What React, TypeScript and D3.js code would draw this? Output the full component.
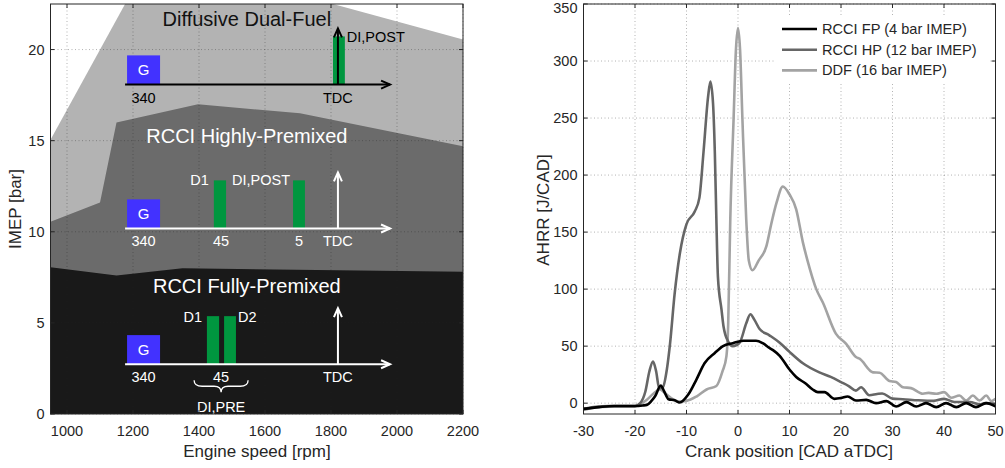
import React from 'react'
import * as d3 from 'd3'

// ---- left panel: operating regions (IMEP vs engine speed)
const rpmTicks = [1000, 1200, 1400, 1600, 1800, 2000, 2200]
const imepTicks = [0, 5, 10, 15, 20]

const ddfRpm = [950, 1176, 1806, 2200]
const ddfImep = [15.05, 22.5, 22.5, 20.55]
const hpRpm = [950, 1100, 1150, 1397, 1706, 2200]
const hpImep = [10.55, 11.6, 16.0, 17.0, 16.5, 14.7]
const fpRpm = [950, 1150, 1350, 2200]
const fpImep = [8.05, 7.6, 8.0, 7.8]

// ---- right panel: apparent heat release rate
const cadTicks = [-30, -20, -10, 0, 10, 20, 30, 40, 50]
const ahrrTicks = [0, 50, 100, 150, 200, 250, 300, 350]

const fpCad = [-30, -27, -24, -20, -18.5, -17.7, -16.8, -16.1, -15, -14.3, -13.5, -12.3, -11.3, -9.7, -8.1, -6.5, -4.5, -2.9, -1, 1, 3.5, 4.8, 6.1, 6.8, 8.1, 10, 11.3, 13.2, 14.5, 15.5, 16.8, 18.7, 20, 21.3, 22.9, 24.9, 26.8, 28.8, 30.7, 32.7, 34.6, 36.5, 38.5, 40.4, 42.4, 44.3, 46.2, 48.2, 50]
const fpAhrr = [-5, -3.5, -2.5, -2.5, -2, -1.5, 2, 6, 15.5, 10, 3.5, 2.5, 0.6, 7.3, 20.5, 35, 44, 50, 52.6, 54.7, 54.7, 52.6, 48.5, 46.5, 41.5, 29.5, 23, 17, 12, 9.7, 9.7, 3.8, 4.5, 5.9, 2.3, 2.9, 0, 1.8, -2.9, 0.9, -2.9, 0, -3.5, 0, -3.5, 0, -3.5, 0, -2.9]

const hpCad = [-30, -28, -25, -20, -19, -18, -17.2, -16.5, -15.9, -15.3, -14.6, -13.8, -13.2, -12.3, -11.3, -10, -8.4, -7.5, -6.7, -5.8, -5.36, -4.85, -4.5, -4.2, -3.9, -3.2, -2.8, -1.9, -1, 0.3, 1.6, 2.4, 3.2, 4.2, 6.1, 8.1, 10, 12.6, 15.8, 18, 20, 21.5, 22.9, 23.9, 25.5, 27, 28, 30, 32, 35, 38, 40, 42, 45, 47, 48, 50]
const hpAhrr = [-5, -3.5, -2.5, -2.5, 0, 10, 28, 36.5, 28, 13, 14, 30, 52, 96, 131, 157, 168, 180, 220, 269, 282, 263, 220, 161, 111, 82, 67, 54, 50, 53, 70, 78, 73, 65, 59.5, 53, 45, 35, 27, 23, 18.5, 15, 11, 14, 7, 8, 8.5, 4, 3.5, 2.5, 2, 3.8, 1, 1, -1, 0, -1]

const ddfCad = [-30, -28, -25, -20, -19, -17.7, -16.5, -15.2, -14, -12.5, -11.5, -10, -8, -6.1, -4.2, -3, -2.25, -1.9, -1.5, -0.85, -0.4, 0, 0.4, 0.85, 1.6, 2.1, 2.8, 4, 5.5, 6.5, 7.5, 8.7, 10, 11.3, 12.6, 13.5, 15.2, 16.5, 19, 21, 22.9, 23.6, 26.2, 27.5, 29.4, 30.7, 32, 33.6, 35.9, 37, 38.5, 40, 41.4, 43, 44.3, 45.6, 46.9, 48.2, 49.2, 50]
const ddfAhrr = [-6, -4, -3, -3, -1, 3, 8, 12, 8, 3, 1.5, 2, 6, 12, 15, 28, 41, 70, 161, 250, 310, 329, 310, 250, 161, 125, 116.5, 125, 137.5, 158, 176, 190, 183, 170, 141, 125, 100, 88, 61, 52, 40.5, 39, 27, 26.7, 19.4, 18.5, 14, 13.2, 8.2, 9, 8.2, 9.7, 4.7, 6.7, 2.3, 6.7, 2.3, 6.7, 1.8, 3.8]

const seriesNames = ['RCCI FP (4 bar IMEP)', 'RCCI HP (12 bar IMEP)', 'DDF (16 bar IMEP)']
const seriesColors = ['#000000', '#666666', '#a3a3a3']

const font = "'Liberation Sans', Arial, Helvetica, sans-serif"
const ink = '#262626'
const blue = '#4232ff'
const green = '#00963f'

const W = 1005
const H = 468

const xL = d3.scaleLinear().domain([950, 2200]).range([50.5, 463])
const yL = d3.scaleLinear().domain([0, 22.5]).range([414, 4])
const xR = d3.scaleLinear().domain([-30, 50]).range([583.5, 995.5])
const yR = d3.scaleLinear().domain([-9.5, 350]).range([414, 4])

const regionArea = (rpm: number[], imep: number[]) =>
	d3
		.area<number>()
		.x((_, i) => xL(rpm[i]))
		.y0(yL(0))
		.y1((d) => yL(d))(imep) || ''

const ahrrLine = (cad: number[], vals: number[]) =>
	d3
		.line<number>()
		.x((_, i) => xR(cad[i]))
		.y((d) => yR(d))
		.curve(d3.curveMonotoneX)(vals) || ''

interface IAxesProps {
	x: d3.ScaleLinear<number, number>
	y: d3.ScaleLinear<number, number>
	xTicks: number[]
	yTicks: number[]
}

const Grid: React.FC<IAxesProps> = ({ x, y, xTicks, yTicks }) => {
	const [x0, x1] = x.range()
	const [y0, y1] = y.range()
	return (
		<g stroke={ink} strokeOpacity={0.35} strokeWidth={1} strokeDasharray="1,2.5">
			{xTicks.map((t) => (
				<line key={'gx' + t} x1={x(t)} x2={x(t)} y1={y0} y2={y1} />
			))}
			{yTicks.map((t) => (
				<line key={'gy' + t} x1={x0} x2={x1} y1={y(t)} y2={y(t)} />
			))}
		</g>
	)
}

const Frame: React.FC<IAxesProps> = ({ x, y, xTicks, yTicks }) => {
	const [x0, x1] = x.range()
	const [y0, y1] = y.range()
	const tk = 4
	return (
		<g>
			<rect x={x0} y={y1} width={x1 - x0} height={y0 - y1} fill="none" stroke={ink} strokeWidth={1} />
			<g stroke={ink} strokeWidth={1}>
				{xTicks.map((t) => (
					<g key={'tx' + t}>
						<line x1={x(t)} x2={x(t)} y1={y0} y2={y0 - tk} />
						<line x1={x(t)} x2={x(t)} y1={y1} y2={y1 + tk} />
					</g>
				))}
				{yTicks.map((t) => (
					<g key={'ty' + t}>
						<line x1={x0} x2={x0 + tk} y1={y(t)} y2={y(t)} />
						<line x1={x1} x2={x1 - tk} y1={y(t)} y2={y(t)} />
					</g>
				))}
			</g>
			<g fill={ink} fontFamily={font} fontSize={14.5}>
				{xTicks.map((t) => (
					<text key={'lx' + t} x={x(t)} y={y0 + 22} textAnchor="middle">
						{t}
					</text>
				))}
				{yTicks.map((t) => (
					<text key={'ly' + t} x={x0 - 6} y={Math.max(y(t) + 5, 13)} textAnchor="end">
						{t}
					</text>
				))}
			</g>
		</g>
	)
}

// injection timing sketch, placed in (rpm, IMEP) units
interface ISketchProps {
	base: number
	color: string
	bars: [number, number][]
	ticks: { at: number; text: string }[]
	notes: { at: number; dy: number; text: string; anchor: 'start' | 'end' }[]
}

const Sketch: React.FC<ISketchProps> = ({ base, color, bars, ticks, notes }) => {
	const y0 = yL(base)
	const xs = xL(1176)
	const xe = xL(1979)
	const xt = xL(1821)
	const yt = yL(base + 3.08)
	return (
		<g fontFamily={font}>
			<rect x={xL(1182)} y={yL(base + 1.6)} width={xL(1282) - xL(1182)} height={y0 - yL(base + 1.6)} fill={blue} />
			<text x={xL(1232)} y={yL(base + 0.8) + 5.5} textAnchor="middle" fill="#ffffff" fontSize={15}>
				G
			</text>
			{bars.map(([a, b], i) => (
				<rect key={i} x={xL(a)} y={yL(base + 2.64)} width={xL(b) - xL(a)} height={y0 - yL(base + 2.64)} fill={green} />
			))}
			<g stroke={color} strokeWidth={2} fill="none">
				<line x1={xs} x2={xe} y1={y0} y2={y0} />
				<polyline points={`${xe - 9},${y0 - 4} ${xe},${y0} ${xe - 9},${y0 + 4}`} />
				<line x1={xt} x2={xt} y1={y0} y2={yt} />
				<polyline points={`${xt - 4},${yt + 9} ${xt},${yt} ${xt + 4},${yt + 9}`} />
			</g>
			<g fill={color} fontSize={14.5}>
				{ticks.map((t) => (
					<text key={t.text + t.at} x={xL(t.at)} y={y0 + 18} textAnchor="middle">
						{t.text}
					</text>
				))}
				{notes.map((n) => (
					<text key={n.text + n.at} x={xL(n.at)} y={yL(base + 2.64) + n.dy} textAnchor={n.anchor}>
						{n.text}
					</text>
				))}
			</g>
		</g>
	)
}

const App: React.FC = () => {
	const fpSeries = [
		{ cad: fpCad, v: fpAhrr },
		{ cad: hpCad, v: hpAhrr },
		{ cad: ddfCad, v: ddfAhrr }
	]
	const braceX = xL(1467)
	const fpBase = 2.73
	const braceY = yL(fpBase) + 16
	return (
		<svg width={W} height={H} style={{ position: 'absolute', left: 0, top: 0, background: '#ffffff' }}>
			<defs>
				<clipPath id="clipL">
					<rect x={50.5} y={4} width={463 - 50.5} height={410} />
				</clipPath>
				<clipPath id="clipR">
					<rect x={583.5} y={4} width={412} height={410} />
				</clipPath>
			</defs>

			{/* left: regions */}
			<g clipPath="url(#clipL)">
				<rect x={50.5} y={4} width={412.5} height={410} fill="#ffffff" />
				<path d={regionArea(ddfRpm, ddfImep)} fill="#b3b3b3" />
				<path d={regionArea(hpRpm, hpImep)} fill="#6b6b6b" />
				<path d={regionArea(fpRpm, fpImep)} fill="#191919" />
			</g>
			<Grid x={xL} y={yL} xTicks={rpmTicks} yTicks={imepTicks} />

			<g fontFamily={font} fontSize={20} textAnchor="middle">
				<text x={xL(1545)} y={yL(21.28)} fill="#111111">
					Diffusive Dual-Fuel
				</text>
				<text x={xL(1545)} y={yL(14.87)} fill="#ffffff">
					RCCI Highly-Premixed
				</text>
				<text x={xL(1545)} y={yL(6.63)} fill="#ffffff">
					RCCI Fully-Premixed
				</text>
			</g>

			<Sketch
				base={18.08}
				color="#000000"
				bars={[[1806, 1842]]}
				ticks={[
					{ at: 1232, text: '340' },
					{ at: 1821, text: 'TDC' }
				]}
				notes={[{ at: 1848, dy: 6, text: 'DI,POST', anchor: 'start' }]}
			/>
			<Sketch
				base={10.18}
				color="#ffffff"
				bars={[
					[1445, 1482],
					[1685, 1721]
				]}
				ticks={[
					{ at: 1232, text: '340' },
					{ at: 1467, text: '45' },
					{ at: 1703, text: '5' },
					{ at: 1821, text: 'TDC' }
				]}
				notes={[
					{ at: 1430, dy: 5, text: 'D1', anchor: 'end' },
					{ at: 1676, dy: 5, text: 'DI,POST', anchor: 'end' }
				]}
			/>
			<Sketch
				base={fpBase}
				color="#ffffff"
				bars={[
					[1424, 1461],
					[1476, 1512]
				]}
				ticks={[
					{ at: 1232, text: '340' },
					{ at: 1467, text: '45' },
					{ at: 1821, text: 'TDC' }
				]}
				notes={[
					{ at: 1409, dy: 5.5, text: 'D1', anchor: 'end' },
					{ at: 1518, dy: 5.5, text: 'D2', anchor: 'start' }
				]}
			/>
			<path
				d={`M${braceX - 27},${braceY} Q${braceX - 27},${braceY + 6} ${braceX - 19},${braceY + 6} L${braceX - 7},${braceY + 6} Q${braceX},${braceY + 6} ${braceX},${braceY + 12} Q${braceX},${braceY + 6} ${braceX + 7},${braceY + 6} L${braceX + 19},${braceY + 6} Q${braceX + 27},${braceY + 6} ${braceX + 27},${braceY}`}
				fill="none"
				stroke="#ffffff"
				strokeWidth={1.3}
			/>
			<text x={braceX} y={yL(0) - 2.5} fill="#ffffff" fontFamily={font} fontSize={14.5} textAnchor="middle">
				DI,PRE
			</text>

			<Frame x={xL} y={yL} xTicks={rpmTicks} yTicks={imepTicks} />
			<text x={257} y={457} fontFamily={font} fontSize={17} fill={ink} textAnchor="middle">
				Engine speed [rpm]
			</text>
			<text transform="translate(21,209) rotate(-90)" fontFamily={font} fontSize={17} fill={ink} textAnchor="middle">
				IMEP [bar]
			</text>

			{/* right: AHRR */}
			<Grid x={xR} y={yR} xTicks={cadTicks} yTicks={ahrrTicks} />
			<rect x={776} y={16} width={214} height={67} fill="#ffffff" />
			<g clipPath="url(#clipR)" fill="none" strokeWidth={2.6} strokeLinejoin="round">
				{[2, 1, 0].map((i) => (
					<path key={i} d={ahrrLine(fpSeries[i].cad, fpSeries[i].v)} stroke={seriesColors[i]} />
				))}
			</g>
			<g fontFamily={font} fontSize={14.6} fill={ink}>
				{seriesNames.map((n, i) => (
					<g key={n} transform={`translate(0,${29 + i * 20.7})`}>
						<line x1={782} x2={817} y1={0} y2={0} stroke={seriesColors[i]} strokeWidth={2.6} />
						<text x={822} y={5}>
							{n}
						</text>
					</g>
				))}
			</g>
			<Frame x={xR} y={yR} xTicks={cadTicks} yTicks={ahrrTicks} />
			<text x={789} y={457} fontFamily={font} fontSize={17} fill={ink} textAnchor="middle">
				Crank position [CAD aTDC]
			</text>
			<text transform="translate(549,210) rotate(-90)" fontFamily={font} fontSize={17} fill={ink} textAnchor="middle">
				AHRR [J/CAD]
			</text>
		</svg>
	)
}

export default App
